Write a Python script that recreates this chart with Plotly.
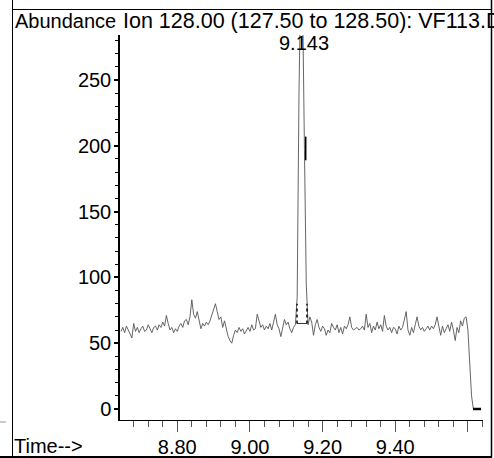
import numpy as np
import plotly.graph_objects as go

# ---------------- data ----------------
scan_start = 8.645
scan_step = 0.005
abundance = [
    59, 62, 58, 63, 60, 57, 54, 65, 59, 62,
    58, 61, 63, 59, 60, 64, 61, 58, 62, 63,
    60, 64, 62, 66, 63, 71, 65, 60, 62, 58,
    61, 59, 63, 65, 62, 67, 68, 64, 70, 83,
    72, 69, 74, 66, 61, 65, 63, 66, 64, 67,
    72, 77, 80, 74, 68, 70, 62, 67, 60, 55,
    52, 50, 56, 60, 58, 62, 59, 61, 57, 60,
    62, 59, 64, 60, 61, 72, 66, 62, 64, 60,
    63, 61, 65, 60, 66, 72, 64, 61, 55, 62,
    68, 64, 66, 61, 58, 62, 64, 85, 240, 330,
    310, 197, 95, 64, 70, 66, 56, 64, 68, 62,
    59, 63, 61, 56, 60, 58, 65, 62, 60, 64,
    58, 62, 57, 63, 61, 64, 70, 62, 60, 61,
    62, 60, 61, 63, 60, 72, 62, 65, 58, 63,
    60, 66, 61, 64, 59, 71, 63, 60, 62, 58,
    62, 61, 57, 63, 60, 62, 67, 74, 60, 56,
    62, 58, 64, 70, 63, 60, 62, 59, 61, 63,
    60, 63, 61, 64, 70, 62, 56, 63, 58, 61,
    64, 59, 66, 60, 52, 62, 58, 67, 63, 69,
    70, 60, 30, 10, 0, 0, 0, 0, 0,
]
times = [round(scan_start + scan_step * i, 4) for i in range(len(abundance))]

x_tickvals = [8.80, 9.00, 9.20, 9.40, 9.60]
x_ticktext = ["8.80", "9.00", "9.20", "9.40", ""]
y_tickvals = [0, 50, 100, 150, 200, 250]
y_ticktext = ["0", "50", "100", "150", "200", "250"]

peak_rt = 9.143
peak_label = "9.143"
base_t = [9.1295, 9.157]
base_v = [65, 65]
mark_left_t = [9.1295, 9.1295]
mark_right_t = [9.157, 9.157]
mark_v = [65, 80]
rt_mark_t = [9.1535, 9.1535]
rt_mark_v = [189, 207]
end_t = [9.614, 9.636]
end_v = [0, 0]

title_left = "Abundance"
title_main = "Ion 128.00 (127.50 to 128.50): VF113.D"
x_title = "Time-->"

# ---------------- layout geometry ----------------
W, H = 494, 458
PL, PR, PT, PB = 120, 483, 35, 420
X_RANGE = [8.6423, 9.6415]
Y_RANGE = [-8.36, 284.2]
FONT = "Liberation Sans, Arial, sans-serif"


def px(x):
    return (x - PL) / (PR - PL)


def py(y):
    return (PB - y) / (PB - PT)


fig = go.Figure()
fig.add_trace(go.Scatter(x=times, y=abundance, mode="lines",
                         line=dict(color="#555555", width=0.9), hoverinfo="skip"))
fig.add_trace(go.Scatter(x=base_t, y=base_v, mode="lines",
                         line=dict(color="#333333", width=1), hoverinfo="skip"))
for tt in (mark_left_t, mark_right_t):
    fig.add_trace(go.Scatter(x=tt, y=mark_v, mode="lines",
                             line=dict(color="black", width=1.5, dash="dot"), hoverinfo="skip"))
fig.add_trace(go.Scatter(x=rt_mark_t, y=rt_mark_v, mode="lines",
                         line=dict(color="black", width=1.5), hoverinfo="skip"))
fig.add_trace(go.Scatter(x=end_t, y=end_v, mode="lines",
                         line=dict(color="black", width=2.5), hoverinfo="skip"))

minor_x = [round(v, 2) for v in np.arange(8.68, 9.64, 0.04) if all(abs(v - m) > 1e-6 for m in x_tickvals)]

fig.update_layout(
    width=W, height=H,
    margin=dict(l=PL, r=W - PR, t=PT, b=H - PB, pad=0, autoexpand=False),
    paper_bgcolor="white", plot_bgcolor="white",
    showlegend=False,
    font=dict(family=FONT, size=20, color="black"),
    xaxis=dict(range=X_RANGE, showgrid=False, zeroline=False, automargin=False,
               showline=True, linecolor="black", linewidth=1,
               ticks="outside", ticklen=11, tickcolor="#555555", tickwidth=1,
               ticklabelstandoff=-2,
               tickmode="array", tickvals=x_tickvals, ticktext=x_ticktext,
               tickfont=dict(family=FONT, size=20, color="black"),
               minor=dict(tickmode="array", tickvals=minor_x, ticks="outside",
                          ticklen=6, tickcolor="#555555", tickwidth=1)),
    yaxis=dict(range=Y_RANGE, showgrid=False, zeroline=False, automargin=False,
               showline=True, linecolor="black", linewidth=1.5,
               ticks="outside", ticklen=4, tickcolor="black", tickwidth=1.5,
               ticklabelstandoff=-1,
               tickmode="array", tickvals=y_tickvals, ticktext=y_ticktext,
               tickfont=dict(family=FONT, size=20, color="black"),
               minor=dict(dtick=10, tick0=0, ticks="outside", ticklen=3,
                          tickcolor="black", tickwidth=1)),
)

line_black = dict(color="black", width=1)
shapes = [
    dict(type="line", xref="paper", yref="paper", x0=px(12.5), x1=px(12.5), y0=py(0), y1=py(457), line=line_black),
    dict(type="line", xref="paper", yref="paper", x0=px(491.5), x1=px(491.5), y0=py(0), y1=py(457), line=dict(color="black", width=1.5)),
    dict(type="line", xref="paper", yref="paper", x0=px(12), x1=px(491.5), y0=py(9.5), y1=py(9.5), line=line_black),
    dict(type="line", xref="paper", yref="paper", x0=px(0), x1=px(492), y0=py(457), y1=py(457), line=dict(color="black", width=2)),
    dict(type="line", xref="paper", yref="paper", x0=px(0), x1=px(6), y0=py(422), y1=py(422), line=dict(color="#999999", width=1)),
]
fig.update_layout(shapes=shapes)

ann = dict(xref="paper", yref="paper", showarrow=False, borderpad=0,
           font=dict(family=FONT, size=20, color="black"))
fig.add_annotation(**ann, text=title_left, x=px(14), y=py(21), xanchor="left", yanchor="middle")
fig.add_annotation(**{**ann, "font": dict(family=FONT, size=21.5, color="black")},
                   text=title_main, x=px(122), y=py(21), xanchor="left", yanchor="middle")
fig.add_annotation(**{**ann, "xref": "x"}, text=peak_label, x=peak_rt, xshift=2,
                   y=py(43), xanchor="center", yanchor="middle")
fig.add_annotation(**ann, text=x_title, x=px(13), y=py(446), xanchor="left", yanchor="middle")

fig.write_html("out.html")
